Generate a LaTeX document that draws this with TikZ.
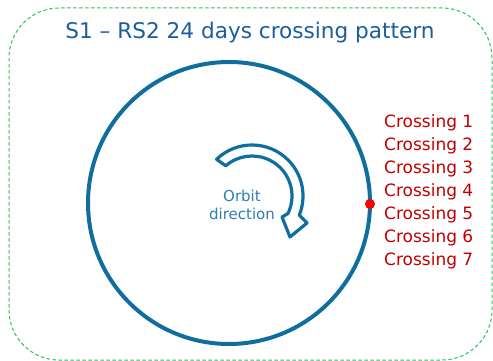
\documentclass[tikz,border=0pt]{standalone}
\usepackage{fontspec}
\setmainfont{DejaVu Sans}
\usetikzlibrary{calc}
\definecolor{orbitblue}{HTML}{0F6E9D}
\definecolor{titleblue}{HTML}{1B5E9F}
\definecolor{textblue}{HTML}{2F7DB5}
\definecolor{crossred}{HTML}{C00000}
\definecolor{framegreen}{HTML}{2DBE5E}
\begin{document}
\begin{tikzpicture}[x=1pt,y=-1pt,
  crosslabel/.style={anchor=west,text=crossred,font=\fontsize{17}{17}\selectfont,inner sep=0pt},
  frame/.style={draw=framegreen,dash pattern=on 3.5pt off 2.5pt,line width=1pt,rounded corners=50pt}]
\useasboundingbox (0,0) rectangle (493,361);
\draw[frame] (9,8) rectangle (492,360);
\node[text=titleblue,font=\fontsize{21.6}{22}\selectfont,inner sep=0pt] (title) at (250,33) {S1 -- RS2 24 days crossing pattern};
\coordinate (O) at (229,203);
\draw[orbitblue,line width=4pt] (O) circle[radius=141];
\coordinate (C) at (252,196);
\draw[orbitblue,line width=3.2pt,fill=white,line join=round]
  ([shift={(C)}]226:51) arc[start angle=226,end angle=382,radius=51]
  -- (307,223) -- (290,237) -- (282,217)
  -- ([shift={(C)}]386:40) arc[start angle=386,end angle=229,radius=40] -- cycle;
\node[text=textblue,font=\fontsize{15}{18}\selectfont,align=center,inner sep=0pt] (orbit) at (242,205) {Orbit\\direction};
\node[circle,fill=red,minimum size=10pt,inner sep=0pt] (dot) at (370,204) {};
\foreach \i in {1,...,7}{
  \node[crosslabel] (c\i) at (384,{123+23*(\i-1)}) {Crossing \i};
}
\end{tikzpicture}
\end{document}
